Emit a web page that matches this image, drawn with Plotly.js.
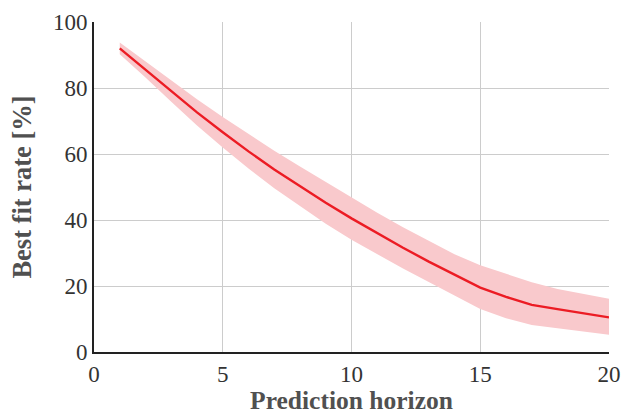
<!DOCTYPE html>
<html>
<head>
<meta charset="utf-8">
<script src="https://cdn.plot.ly/plotly-3.0.1.min.js"></script>
<style>html,body{margin:0;padding:0;background:#fff;}#chart{width:622px;height:415px;}</style>
</head>
<body>
<div id="chart"></div>
<script>
var horizon = [1,2,3,4,5,6,7,8,9,10,11,12,13,14,15,16,17,18,19,20];
var meanFit = [92.0,85.6,79.0,72.6,66.6,60.8,55.3,50.2,45.2,40.5,36.0,31.6,27.4,23.4,19.5,16.7,14.3,13.0,11.8,10.5];
var upperFit = [93.8,88.0,82.2,76.6,71.2,66.0,61.0,56.2,51.5,46.8,42.2,37.8,33.6,29.6,26.3,23.6,21.1,19.1,17.5,16.1];
var lowerFit = [90.2,83.2,75.8,68.6,62.0,55.6,49.6,44.2,38.9,34.0,29.6,25.3,21.2,17.1,13.0,10.2,8.2,7.2,6.2,5.2];
var xTicks = [0,5,10,15,20];
var yTicks = [0,20,40,60,80,100];

var traces = [
  {x: horizon, y: upperFit, mode: 'lines', line: {width: 0, color: 'rgba(0,0,0,0)'}, hoverinfo: 'skip', showlegend: false},
  {x: horizon, y: lowerFit, mode: 'lines', fill: 'tonexty', fillcolor: '#f9c9cc', line: {width: 0, color: 'rgba(0,0,0,0)'}, hoverinfo: 'skip', showlegend: false},
  {x: horizon, y: meanFit, mode: 'lines', line: {color: '#ec1c24', width: 2.4}, showlegend: false}
];

var layout = {
  width: 622, height: 415,
  margin: {l: 94, r: 13, t: 22, b: 63},
  paper_bgcolor: '#fff', plot_bgcolor: '#fff',
  font: {family: '"Liberation Serif", "DejaVu Serif", serif', color: '#333'},
  xaxis: {
    range: [0, 20], tickvals: xTicks, ticktext: xTicks.map(String),
    showgrid: true, gridcolor: '#cccccc', gridwidth: 1,
    zeroline: false, showline: true, linecolor: '#222', linewidth: 2,
    ticks: '', tickfont: {size: 23, color: '#333'},
    title: {text: '<b>Prediction horizon</b>', font: {size: 25.5, color: '#505050'}, standoff: 10},
    automargin: false
  },
  yaxis: {
    range: [0, 100], tickvals: yTicks, ticktext: yTicks.map(String),
    showgrid: true, gridcolor: '#cccccc', gridwidth: 1,
    zeroline: false, showline: true, linecolor: '#222', linewidth: 2,
    ticks: '', tickfont: {size: 23, color: '#333'},
    title: {text: '<b>Best fit rate [%]</b>', font: {size: 26.5, color: '#505050'}, standoff: 14},
    automargin: false
  }
};
Plotly.newPlot('chart', traces, layout, {displayModeBar: false, staticPlot: true});
</script>
</body>
</html>
